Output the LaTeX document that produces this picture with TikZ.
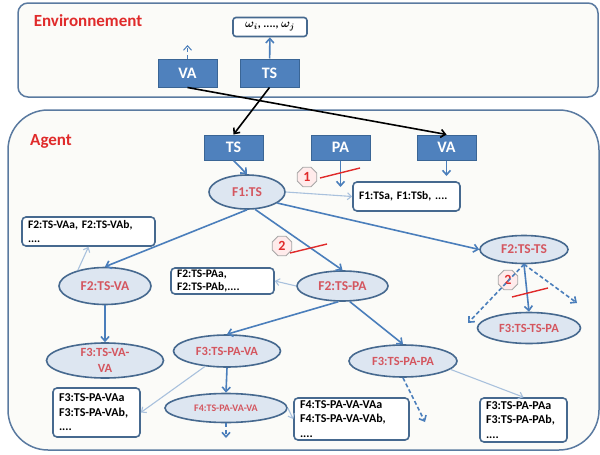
\documentclass[tikz,border=0pt]{standalone}
\usepackage{fontspec}
\setmainfont{Carlito}
\usetikzlibrary{shapes.geometric,arrows.meta}

\definecolor{boxblue}{HTML}{4F81BD}
\definecolor{boxedge}{HTML}{3A6595}
\definecolor{ovalfill}{HTML}{DDE6F1}
\definecolor{ovaledge}{HTML}{46698F}
\definecolor{ovaltext}{HTML}{D4565F}
\definecolor{arrowblue}{HTML}{4A7EBB}
\definecolor{lightarrow}{HTML}{A9C1DD}
\definecolor{panelfill}{HTML}{FBFBF8}
\definecolor{paneledge}{HTML}{5A7AA0}
\definecolor{redmark}{HTML}{E02B2B}

\begin{document}
\begin{tikzpicture}[x=1pt, y=-1pt,
    block/.style={rectangle, draw=boxedge, line width=1pt, fill=boxblue, text=white,
        font=\fontsize{16}{16}\selectfont\bfseries, minimum width=59pt, minimum height=26pt, inner sep=0pt},
    oval/.style={ellipse, draw=ovaledge, line width=1.6pt, fill=ovalfill, text=ovaltext,
        font=\fontsize{13.5}{14}\selectfont\bfseries, inner sep=0pt, align=center},
    listbox/.style={rectangle, rounded corners=4pt, draw=ovaledge, line width=1.6pt, fill=white,
        font=\fontsize{11.5}{14.5}\selectfont\bfseries, align=left, inner xsep=6pt, inner ysep=0pt},
    badge/.style={regular polygon, regular polygon sides=8, draw=gray!70, line width=0.8pt, fill=red!8,
        text=redmark, font=\fontsize{14}{14}\selectfont\bfseries, minimum size=21pt, inner sep=0pt},
    flow/.style={arrowblue, line width=1.6pt, -{Straight Barb[length=4.5pt,width=8pt]}},
    faint/.style={lightarrow, line width=1.1pt, -{Straight Barb[length=4pt,width=7pt]}},
    dashflow/.style={flow, dash pattern=on 4pt off 2.5pt},
    link/.style={black, line width=1.6pt, -{Straight Barb[length=4.5pt,width=8pt]}},
    strike/.style={redmark, line width=1.4pt},
    panel/.style={draw=paneledge, line width=1.5pt, fill=panelfill},
    heading/.style={text=redmark, font=\fontsize{17}{17}\selectfont\bfseries}
]
    \useasboundingbox (0,0) rectangle (600,455);

    % Environment
    \draw[panel, rounded corners=10pt] (18,3) rectangle (598,97);
    \node[heading] (Env-label) at (88,21) {Environnement};
    \node[listbox, rounded corners=3pt, minimum width=74pt, minimum height=19pt, inner xsep=2pt,
        font=\fontsize{11.5}{11.5}\selectfont\bfseries] (Omega) at (270,27) {{\boldmath$\omega_i$}, ...., {\boldmath$\omega_j$}};
    \node[block, minimum height=28pt] (Env-VA) at (187.5,73) {VA};
    \node[block, minimum height=28pt] (Env-TS) at (269.5,73) {TS};
    \coordinate (VA-out) at (187.5,45);

    % Agent
    \draw[panel, rounded corners=40pt] (8,110) rectangle (599,450);
    \node[heading] (Agent-label) at (51,141) {Agent};
    \foreach \name/\x in {TS/233.5,PA/340.5,VA/446.5} {
        \node[block, minimum height=25pt] (Agent-\name) at (\x,147.5) {\name};
    }

    % Level 1
    \node[oval, minimum width=76pt, minimum height=34pt] (F1-TS) at (247,192) {F1:TS};
    \node[listbox, minimum height=29pt, text width=95pt] (F1-list) at (406.5,196.5) {F1:TSa, F1:TSb, ....};
    \node[badge] (Badge-1) at (307,177) {1};
    \coordinate (Cut1-a) at (320,178);
    \coordinate (Cut1-b) at (360,168);
    \coordinate (PA-end) at (340.5,187);
    \coordinate (VA-end) at (446.5,176);

    % Level 2
    \node[oval, minimum width=92pt, minimum height=37pt] (F2-TS-VA) at (105,286) {F2:TS-VA};
    \node[listbox, minimum height=29pt, text width=121pt] (F2-VA-list) at (88.5,231.5) {F2:TS-VAa, F2:TS-VAb,\\....};
    \node[oval, minimum width=91pt, minimum height=30pt] (F2-TS-PA) at (342.5,286) {F2:TS-PA};
    \node[listbox, minimum height=26pt, text width=91pt, font=\fontsize{11.5}{13.5}\selectfont\bfseries] (F2-PA-list) at (222.5,281) {F2:TS-PAa,\\F2:TS-PAb,....};
    \node[oval, minimum width=88pt, minimum height=28pt] (F2-TS-TS) at (524,249.5) {F2:TS-TS};
    \node[badge] (Badge-2) at (282,246) {2};
    \coordinate (Cut2-a) at (290,253);
    \coordinate (Cut2-b) at (327,244);

    % Level 3
    \node[oval, minimum width=117pt, minimum height=35pt, font=\fontsize{12.5}{16}\selectfont\bfseries] (F3-TS-VA-VA) at (105,360.5) {F3:TS-VA-\\VA};
    \node[oval, minimum width=107pt, minimum height=32pt, font=\fontsize{12.5}{14}\selectfont\bfseries] (F3-TS-PA-VA) at (227,351) {F3:TS-PA-VA};
    \node[listbox, minimum height=49pt, text width=75pt, font=\fontsize{12}{14.5}\selectfont\bfseries] (F3-VA-list) at (96.5,412.5) {F3:TS-PA-VAa\\F3:TS-PA-VAb,\\....};
    \node[oval, minimum width=108pt, minimum height=32pt, font=\fontsize{12.5}{14}\selectfont\bfseries] (F3-TS-PA-PA) at (403,361) {F3:TS-PA-PA};
    \node[listbox, minimum height=44pt, text width=75pt, font=\fontsize{12}{14.5}\selectfont\bfseries] (F3-PA-list) at (523.5,420) {F3:TS-PA-PAa\\F3:TS-PA-PAb,\\....};
    \node[oval, minimum width=103pt, minimum height=31pt, font=\fontsize{12.5}{14}\selectfont\bfseries] (F3-TS-TS-PA) at (529,328) {F3:TS-TS-PA};
    \node[badge] (Badge-3) at (508,280) {2};
    \coordinate (Cut3-a) at (512,297);
    \coordinate (Cut3-b) at (548,288);
    \coordinate (TT-left) at (468,323);
    \coordinate (TT-right) at (577,303);
    \coordinate (PAPA-next) at (425,422);

    % Level 4
    \node[oval, minimum width=122pt, minimum height=29pt, font=\fontsize{10}{12}\selectfont\bfseries] (F4-TS-PA-VA-VA) at (226,408) {F4:TS-PA-VA-VA};
    \node[listbox, minimum height=42pt, text width=103pt, font=\fontsize{12}{14.5}\selectfont\bfseries] (F4-list) at (351.5,419) {F4:TS-PA-VA-VAa\\F4:TS-PA-VA-VAb,\\....};
    \coordinate (F4-next) at (226,438);

    % Arrows
    \draw[flow] (Env-TS) -- (Omega);
    \draw[dashflow, line width=1pt] (Env-VA) -- (VA-out);
    \draw[link] (Env-TS.south) -- (Agent-TS.north);
    \draw[link] (Env-VA.south) -- (Agent-VA.north);
    \draw[flow] (Agent-TS.south) -- (F1-TS.north);
    \draw[flow] (Agent-PA) -- (PA-end);
    \draw[flow] (Agent-VA) -- (VA-end);
    \draw[faint] (F1-TS.east) -- (F1-list.west);
    \draw[flow] (F1-TS.south) -- (F2-TS-VA.north);
    \draw[flow] (F1-TS.-65) -- (F2-TS-PA.north);
    \draw[flow] (F1-TS.-20) -- (F2-TS-TS.west);
    \draw[faint] (F2-TS-VA.150) -- (F2-VA-list.south);
    \draw[faint] (F2-TS-PA.west) -- (F2-PA-list.east);
    \draw[flow] (F2-TS-VA.south) -- (F3-TS-VA-VA.north);
    \draw[flow] (F2-TS-PA.255) -- (F3-TS-PA-VA.north);
    \draw[flow] (F2-TS-PA.295) -- (F3-TS-PA-PA.north);
    \draw[flow] (F2-TS-TS.south) -- (F3-TS-TS-PA.north);
    \draw[dashflow] (F2-TS-TS.south) -- (TT-left);
    \draw[dashflow] (F2-TS-TS.south) -- (TT-right);
    \draw[faint] (F3-TS-PA-VA.215) -- (F3-VA-list.east);
    \draw[flow] (F3-TS-PA-VA.south) -- (F4-TS-PA-VA-VA.north);
    \draw[faint] (F4-TS-PA-VA-VA.east) -- (F4-list.west);
    \draw[dashflow] (F4-TS-PA-VA-VA.south) -- (F4-next);
    \draw[dashflow] (F3-TS-PA-PA.south) -- (PAPA-next);
    \draw[faint] (F3-TS-PA-PA.-10) -- (F3-PA-list.north);
    % Cuts
    \draw[strike] (Cut1-a) -- (Cut1-b);
    \draw[strike] (Cut2-a) -- (Cut2-b);
    \draw[strike] (Cut3-a) -- (Cut3-b);
\end{tikzpicture}
\end{document}
